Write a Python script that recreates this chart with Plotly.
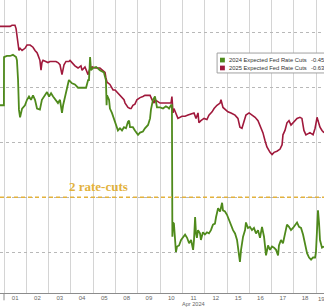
import plotly.graph_objects as go

# Trading-day index: 0 = start of Apr 01 session, each unit = one trading day
day_labels = ["01", "02", "03", "04", "05", "08", "09", "10", "11", "12", "15", "16", "17", "18", "19"]
month_label = "Apr 2024"
month_label_day = 8  # index of the "11" label

red_x = [-0.18, 0.27, 0.36, 0.49, 0.54, 0.58, 0.63, 0.67, 0.72, 0.81, 0.94, 1.03, 1.17, 1.30, 1.39, 1.48, 1.52,
         1.61, 1.66, 1.70, 1.75, 1.84, 1.97, 2.06, 2.20, 2.33, 2.42, 2.51, 2.60, 2.65, 2.69, 2.78, 2.91, 2.96,
         3.05, 3.18, 3.32, 3.45, 3.50, 3.63, 3.77, 3.81, 3.86, 3.95, 4.08, 4.30, 4.44, 4.53, 4.57, 4.62, 4.75,
         4.84, 4.89, 4.98, 5.02, 5.11, 5.20, 5.29, 5.38, 5.43, 5.56, 5.65, 5.70, 5.78, 5.87, 5.96, 6.10, 6.23,
         6.32, 6.46, 6.55, 6.64, 6.73, 6.77, 6.91, 7.00, 7.22, 7.44, 7.49, 7.53, 7.58, 7.62, 7.71, 7.80, 7.98,
         8.12, 8.25, 8.43, 8.52, 8.61, 8.70, 8.74, 8.83, 8.97, 9.10, 9.19, 9.33, 9.42, 9.55, 9.69, 9.73, 9.82,
         9.91, 10.04, 10.18, 10.36, 10.49, 10.58, 10.67, 10.76, 10.85, 10.99, 11.12, 11.26, 11.39, 11.48,
         11.61, 11.70, 11.79, 11.93, 12.02, 12.11, 12.24, 12.38, 12.47, 12.51, 12.60, 12.69, 12.78, 12.87,
         13.00, 13.14, 13.27, 13.36, 13.45, 13.54, 13.72, 13.86, 13.95, 14.04, 14.08, 14.17, 14.26, 14.35]
red_y = [-0.656, -0.656, -0.657, -0.657, -0.654, -0.648, -0.639, -0.634, -0.636, -0.634, -0.636, -0.639, -0.639,
         -0.637, -0.634, -0.632, -0.630, -0.625, -0.616, -0.623, -0.625, -0.624, -0.623, -0.624, -0.624, -0.624,
         -0.623, -0.621, -0.612, -0.616, -0.621, -0.624, -0.624, -0.625, -0.623, -0.620, -0.618, -0.620, -0.616,
         -0.619, -0.612, -0.616, -0.618, -0.619, -0.618, -0.618, -0.616, -0.614, -0.609, -0.605, -0.603, -0.600,
         -0.598, -0.598, -0.597, -0.595, -0.593, -0.591, -0.589, -0.586, -0.582, -0.581, -0.581, -0.584, -0.585,
         -0.589, -0.591, -0.592, -0.593, -0.593, -0.593, -0.589, -0.586, -0.589, -0.587, -0.586, -0.586, -0.586,
         -0.586, -0.592, -0.577, -0.581, -0.577, -0.572, -0.574, -0.574, -0.575, -0.576, -0.577, -0.572, -0.577,
         -0.568, -0.570, -0.572, -0.571, -0.575, -0.578, -0.581, -0.584, -0.586, -0.589, -0.582, -0.580, -0.578,
         -0.577, -0.575, -0.572, -0.564, -0.563, -0.569, -0.575, -0.577, -0.575, -0.573, -0.570, -0.566, -0.559,
         -0.552, -0.546, -0.541, -0.539, -0.541, -0.542, -0.544, -0.548, -0.557, -0.561, -0.568, -0.570, -0.566,
         -0.569, -0.572, -0.573, -0.572, -0.561, -0.557, -0.559, -0.557, -0.563, -0.573, -0.570, -0.564, -0.561,
         -0.559]

green_x = [-0.18, -0.005, 0.00, 0.13, 0.27, 0.40, 0.54, 0.58, 0.63, 0.67, 0.72, 0.81, 0.94, 1.03, 1.12, 1.21,
           1.30, 1.39, 1.48, 1.61, 1.70, 1.84, 1.93, 2.02, 2.11, 2.20, 2.33, 2.42, 2.51, 2.60, 2.65, 2.74, 2.83,
           2.91, 3.05, 3.18, 3.32, 3.45, 3.59, 3.68, 3.77, 3.81, 3.86, 3.90, 3.99, 4.13, 4.30, 4.48, 4.57, 4.60,
           4.62, 4.71, 4.75, 4.84, 4.93, 5.02, 5.11, 5.20, 5.29, 5.38, 5.47, 5.56, 5.61, 5.65, 5.78, 5.87, 6.01,
           6.10, 6.23, 6.32, 6.46, 6.55, 6.59, 6.68, 6.77, 6.86, 7.00, 7.13, 7.26, 7.35, 7.40, 7.49, 7.53, 7.55,
           7.58, 7.62, 7.67, 7.71, 7.76, 7.85, 7.94, 8.03, 8.12, 8.21, 8.30, 8.39, 8.43, 8.48, 8.52, 8.57, 8.61,
           8.65, 8.70, 8.79, 8.83, 8.92, 9.01, 9.10, 9.19, 9.28, 9.37, 9.46, 9.51, 9.60, 9.69, 9.78, 9.82, 9.91,
           10.00, 10.09, 10.18, 10.27, 10.36, 10.45, 10.54, 10.58, 10.63, 10.72, 10.81, 10.85, 10.94, 11.03,
           11.12, 11.21, 11.30, 11.39, 11.48, 11.57, 11.66, 11.75, 11.84, 11.93, 12.02, 12.11, 12.20, 12.29,
           12.33, 12.42, 12.51, 12.60, 12.69, 12.78, 12.87, 12.96, 13.05, 13.14, 13.23, 13.32, 13.41, 13.50,
           13.59, 13.68, 13.77, 13.86, 13.95, 13.99, 14.04, 14.08, 14.13, 14.17, 14.26, 14.35]
green_y = [-0.584, -0.584, -0.628, -0.629, -0.629, -0.630, -0.628, -0.625, -0.607, -0.580, -0.573, -0.581, -0.584,
           -0.589, -0.592, -0.589, -0.593, -0.589, -0.581, -0.580, -0.589, -0.593, -0.596, -0.592, -0.595, -0.592,
           -0.589, -0.586, -0.589, -0.577, -0.584, -0.591, -0.600, -0.607, -0.604, -0.603, -0.600, -0.600, -0.600,
           -0.600, -0.607, -0.607, -0.628, -0.616, -0.618, -0.619, -0.616, -0.614, -0.607, -0.584, -0.593, -0.589,
           -0.581, -0.577, -0.572, -0.566, -0.561, -0.563, -0.561, -0.564, -0.563, -0.569, -0.570, -0.564, -0.564,
           -0.561, -0.557, -0.559, -0.560, -0.563, -0.566, -0.572, -0.580, -0.589, -0.592, -0.582, -0.582, -0.581,
           -0.583, -0.582, -0.581, -0.584, -0.584, -0.464, -0.477, -0.476, -0.464, -0.450, -0.455, -0.456, -0.461,
           -0.464, -0.466, -0.463, -0.458, -0.461, -0.455, -0.452, -0.461, -0.482, -0.467, -0.463, -0.470, -0.467,
           -0.461, -0.468, -0.466, -0.468, -0.467, -0.470, -0.475, -0.476, -0.482, -0.490, -0.487, -0.495, -0.488,
           -0.487, -0.484, -0.479, -0.476, -0.470, -0.467, -0.461, -0.447, -0.441, -0.452, -0.464, -0.470, -0.477,
           -0.472, -0.473, -0.470, -0.472, -0.467, -0.470, -0.463, -0.473, -0.464, -0.447, -0.456, -0.452, -0.455,
           -0.454, -0.452, -0.447, -0.456, -0.461, -0.458, -0.467, -0.475, -0.473, -0.470, -0.472, -0.475, -0.477,
           -0.473, -0.472, -0.466, -0.456, -0.449, -0.445, -0.443, -0.445, -0.445, -0.450, -0.476, -0.488, -0.476,
           -0.461, -0.454, -0.455]

series_names = ["2024 Expected Fed Rate Cuts", "2025 Expected Fed Rate Cuts"]
series_last = ["-0.45", "-0.63"]
two_cuts_level = -0.50
y_grid = [-0.45, -0.50, -0.55, -0.60, -0.65]

GREEN = "#4f8a1c"
RED = "#a0193c"
GOLD = "#e3b23c"

x_range = [-0.18, 14.35]
y_range = [-0.4126, -0.6801]
H, B = 308, 15

fig = go.Figure()
fig.add_trace(go.Scatter(x=red_x, y=red_y, mode="lines", line=dict(color=RED, width=1.6),
                         name=series_names[1], showlegend=False))
fig.add_trace(go.Scatter(x=green_x, y=green_y, mode="lines", line=dict(color=GREEN, width=1.8),
                         name=series_names[0], showlegend=False))

n_days = len(day_labels)
fig.update_layout(
    width=324, height=H,
    margin=dict(l=0, r=0, t=0, b=B, autoexpand=False),
    paper_bgcolor="white", plot_bgcolor="white",
    showlegend=False,
    font=dict(family="Liberation Sans, Arial, sans-serif", size=6, color="#666"),
    xaxis=dict(
        range=x_range, tickmode="array",
        tickvals=[i + 0.5 for i in range(n_days)], ticktext=day_labels,
        showgrid=False, ticks="", zeroline=False, ticklabelstandoff=-1,
        showline=True, linecolor="#8c8c8c", linewidth=1,
        tickfont=dict(size=6, color="#666"),
        minor=dict(tickmode="array", tickvals=list(range(n_days + 1)), showgrid=True,
                   gridcolor="#d4d4d4", gridwidth=1, ticks=""),
    ),
    yaxis=dict(
        range=y_range, tickmode="array", tickvals=y_grid, showticklabels=False,
        showgrid=True, gridcolor="#b8b8b8", griddash="dot", gridwidth=1, zeroline=False, ticks="",
    ),
)

# month-start tick below axis
fig.add_shape(type="line", xref="x", yref="paper", x0=0, x1=0, y0=0, y1=-0.025,
              line=dict(color="#8c8c8c", width=1))

# month label under the "11" tick, sitting at the bottom edge of the figure
fig.add_annotation(x=month_label_day + 0.5, y=-B / (H - B), xref="x", yref="paper", text=month_label,
                   showarrow=False, yanchor="bottom", yshift=-1, font=dict(size=5.6, color="#666"))

# 2 rate-cuts reference line + label
fig.add_shape(type="line", xref="paper", yref="y", x0=0, x1=1, y0=two_cuts_level, y1=two_cuts_level,
              line=dict(color=GOLD, width=1.5, dash="4px,3px"), layer="above")
fig.add_annotation(x=4.24, y=two_cuts_level, xref="x", yref="y", text="<b>2 rate-cuts</b>", showarrow=False,
                   yanchor="bottom", yshift=1,
                   font=dict(family="Liberation Serif, Times New Roman, serif", size=13, color=GOLD))

# last visible tick label (partly outside the plot)
fig.add_annotation(x=(14.5 - x_range[0]) / (x_range[1] - x_range[0]), y=0, xref="paper", yref="paper",
                   yanchor="top", yshift=-1, text="19", showarrow=False, font=dict(size=6, color="#666"))

# legend box (drawn manually, runs off the right edge like the reference)
fig.add_shape(type="rect", xref="paper", yref="paper", x0=0.670, x1=1.10, y0=0.751, y1=0.819,
              line=dict(color="#a0a0a0", width=1), fillcolor="white", layer="above")
rows_y = [0.795, 0.768]
for col, name, last, yy in zip([GREEN, RED], series_names, series_last, rows_y):
    fig.add_shape(type="rect", xref="paper", yref="paper", x0=0.679, x1=0.694, y0=yy - 0.008, y1=yy + 0.008,
                  line=dict(width=0), fillcolor=col, layer="above")
    fig.add_annotation(x=0.701, y=yy, xref="paper", yref="paper", text=name, showarrow=False,
                       xanchor="left", yanchor="middle", font=dict(size=5.8, color="#333"))
    fig.add_annotation(x=0.954, y=yy, xref="paper", yref="paper", text=last, showarrow=False,
                       xanchor="left", yanchor="middle", font=dict(size=5.8, color="#333"))

fig.write_html("out.html")
